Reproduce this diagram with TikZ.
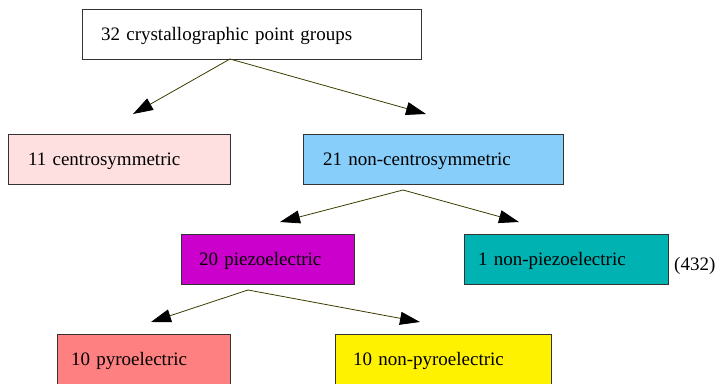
\documentclass[tikz,border=0pt]{standalone}
\usepackage{fontspec}
\setmainfont{Liberation Serif}
\usetikzlibrary{arrows.meta}
\definecolor{centroPink}{HTML}{FFE0E0}
\definecolor{noncentroBlue}{HTML}{87CEFA}
\definecolor{piezoMagenta}{HTML}{CC00CC}
\definecolor{nonpiezoTeal}{HTML}{00B2B2}
\definecolor{pyroSalmon}{HTML}{FF8080}
\definecolor{edgeOlive}{HTML}{3C3C00}
\begin{document}
\begin{tikzpicture}[x=1pt,y=-1pt]
                    \tikzset{every node/.style={font=\fontsize{19}{22}\selectfont}}
                    \tikzset{grp/.style={draw=black!80, line width=0.8pt, anchor=north west, outer sep=0pt,
                        inner ysep=0pt, minimum height=50pt, align=left, text height=15pt, text depth=2pt}}
                    \tikzset{edge/.style={draw=edgeOlive, line width=0.8pt,
                        -{Triangle[length=20pt,width=13pt,color=black]}}}
                    \useasboundingbox (0,0) rectangle (715,383);
                    \node[grp, fill=white, inner xsep=19pt, text width=301pt] (top) at (82,9) {32 crystallographic point groups};
                    \node[grp, fill=centroPink, inner xsep=20pt, text width=182pt] (centro) at (8,134) {11 centrosymmetric};
                    \node[grp, fill=noncentroBlue, inner xsep=20pt, text width=220pt] (noncentro) at (303,134) {21 non-centrosymmetric};
                    \node[grp, fill=piezoMagenta, inner xsep=18pt, text width=137pt] (piezo) at (181,234) {20 piezoelectric};
                    \node[grp, fill=nonpiezoTeal, inner xsep=14pt, text width=176pt] (nonpiezo) at (464,234) {1 non-piezoelectric};
                    \node[grp, fill=pyroSalmon, inner xsep=14pt, text width=145pt] (pyro) at (57,334) {10 pyroelectric};
                    \node[grp, fill=yellow, inner xsep=18pt, text width=180pt] (nonpyro) at (335,334) {10 non-pyroelectric};
                    \node[anchor=base west, inner sep=0pt] (label432) at (674,270) {(432)};
                    % branch points and arrow tips
                    \coordinate (topFork) at ([xshift=-21.5pt]top.south);
                    \coordinate (noncentroFork) at ([xshift=-30pt,yshift=-6pt]noncentro.south);
                    \coordinate (piezoFork) at ([xshift=-19.5pt,yshift=-6pt]piezo.south);
                    \coordinate (centroTip) at ([xshift=14pt,yshift=20pt]centro.north);
                    \coordinate (noncentroTip) at ([xshift=-7pt,yshift=20pt]noncentro.north);
                    \coordinate (piezoTip) at ([xshift=12.5pt,yshift=12pt]piezo.north);
                    \coordinate (nonpiezoTip) at ([xshift=-47pt,yshift=12pt]nonpiezo.north);
                    \coordinate (pyroTip) at ([xshift=7.5pt,yshift=12pt]pyro.north);
                    \coordinate (nonpyroTip) at ([xshift=-23pt,yshift=12pt]nonpyro.north);
                    \draw[edge] (topFork) -- (centroTip);
                    \draw[edge] (topFork) -- (noncentroTip);
                    \draw[edge] (noncentroFork) -- (piezoTip);
                    \draw[edge] (noncentroFork) -- (nonpiezoTip);
                    \draw[edge] (piezoFork) -- (pyroTip);
                    \draw[edge] (piezoFork) -- (nonpyroTip);
                    \end{tikzpicture}
\end{document}
